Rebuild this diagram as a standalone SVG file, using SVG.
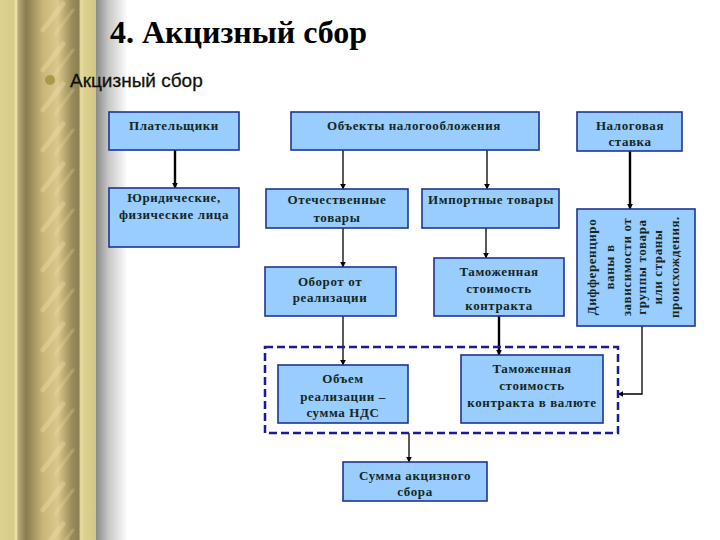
<svg xmlns="http://www.w3.org/2000/svg" width="720" height="540" viewBox="0 0 720 540">
<defs>
<linearGradient id="col" x1="0" y1="0" x2="1" y2="0">
<stop offset="0" stop-color="#dcd18e"/>
<stop offset="0.14" stop-color="#d8cc88"/>
<stop offset="0.17" stop-color="#f0e6b0"/>
<stop offset="0.19" stop-color="#b8aa72"/>
<stop offset="0.27" stop-color="#8a7c50"/>
<stop offset="0.45" stop-color="#c9b67a"/>
<stop offset="0.6" stop-color="#d9c98c"/>
<stop offset="0.75" stop-color="#9a8b5a"/>
<stop offset="0.82" stop-color="#8c7f52"/>
<stop offset="0.84" stop-color="#e6dca0"/>
<stop offset="0.88" stop-color="#dcd18e"/>
<stop offset="1" stop-color="#d4c784"/>
</linearGradient>
<linearGradient id="shadow" x1="0" y1="0" x2="1" y2="0">
<stop offset="0" stop-color="#8a8a8a"/>
<stop offset="0.4" stop-color="#c8c8c8"/>
<stop offset="1" stop-color="#ffffff"/>
</linearGradient>
<pattern id="streaks" width="60" height="40" patternUnits="userSpaceOnUse" patternTransform="translate(25,0)">
<path d="M38 4 L18 30" stroke="#f2e3a8" stroke-width="5" stroke-linecap="round" opacity="0.35"/>
<path d="M48 10 L30 34" stroke="#efe0a0" stroke-width="3" stroke-linecap="round" opacity="0.25"/>
</pattern>
<marker id="arr" viewBox="0 0 10 10" refX="9" refY="5" markerWidth="6" markerHeight="6" orient="auto" markerUnits="userSpaceOnUse">
<path d="M0 0 L10 5 L0 10 Z" fill="#000"/>
</marker>
<style>
.box{fill:#99ccff;stroke:#1f3590;stroke-width:1.6}
.t{font-family:"Liberation Serif","Times New Roman",serif;font-weight:bold;font-size:13px;fill:#14281a;text-anchor:middle;letter-spacing:0.6px}
.c{stroke:#000;stroke-width:1.3;fill:none}
.ct{stroke:#000;stroke-width:2.4;fill:none}
</style>
</defs>
<rect width="720" height="540" fill="#ffffff"/>
<rect x="0" y="0" width="96" height="540" fill="url(#col)"/>
<rect x="28" y="0" width="50" height="540" fill="url(#streaks)"/>
<rect x="96" y="0" width="32" height="540" fill="url(#shadow)"/>
<text x="110" y="43" font-family="Liberation Serif,Times New Roman,serif" font-weight="bold" font-size="32" fill="#000">4. Акцизный сбор</text>
<circle cx="50" cy="80" r="5" fill="#a89a48"/>
<text x="70" y="87" font-family="Liberation Sans,Arial,sans-serif" font-size="19" fill="#111108" stroke="#111108" stroke-width="0.3">Акцизный сбор</text>

<g id="connectors">
<line class="ct" x1="175" y1="150" x2="175" y2="188" marker-end="url(#arr)"/>
<line class="c" x1="343" y1="150" x2="343" y2="189" marker-end="url(#arr)"/>
<line class="c" x1="487" y1="150" x2="487" y2="189" marker-end="url(#arr)"/>
<line class="ct" x1="630" y1="151" x2="630" y2="209" marker-end="url(#arr)"/>
<line class="c" x1="343" y1="228" x2="343" y2="267" marker-end="url(#arr)"/>
<line class="c" x1="486" y1="228" x2="486" y2="258" marker-end="url(#arr)"/>
<line class="c" x1="343" y1="316" x2="343" y2="365" marker-end="url(#arr)"/>
<line class="ct" x1="499" y1="316" x2="499" y2="355" marker-end="url(#arr)"/>
<polyline class="c" points="642,326 642,394 618,394" marker-end="url(#arr)"/>
<line class="c" x1="409" y1="433" x2="409" y2="462" marker-end="url(#arr)"/>
</g>

<g id="group-dashed">
<rect x="265" y="347" width="353" height="86" fill="none" stroke="#1a1a9a" stroke-width="2.5" stroke-dasharray="8,4"/>
</g>

<g id="n-platelshiki">
<rect class="box" x="109" y="112" width="130" height="38"/>
<text class="t" x="174" y="130">Плательщики</text>
</g>
<g id="n-obekty">
<rect class="box" x="291" y="112" width="248" height="38"/>
<text class="t" x="414" y="130">Объекты налогообложения</text>
</g>
<g id="n-stavka">
<rect class="box" x="577" y="112" width="105" height="39"/>
<text class="t" x="630" y="130">Налоговая</text>
<text class="t" x="630" y="146">ставка</text>
</g>
<g id="n-yurid">
<rect class="box" x="109" y="188" width="130" height="59"/>
<text class="t" x="174" y="202">Юридические,</text>
<text class="t" x="174" y="219">физические лица</text>
</g>
<g id="n-otech">
<rect class="box" x="266" y="189" width="142" height="39"/>
<text class="t" x="337" y="204">Отечественные</text>
<text class="t" x="337" y="222">товары</text>
</g>
<g id="n-import">
<rect class="box" x="422" y="189" width="137" height="39"/>
<text class="t" x="491" y="204">Импортные товары</text>
</g>
<g id="n-diff">
<rect class="box" x="577" y="209" width="118" height="117"/>
<text class="t" transform="translate(596,267) rotate(-90)">Дифференциро</text>
<text class="t" transform="translate(614,267) rotate(-90)">ваны в</text>
<text class="t" transform="translate(631,267) rotate(-90)">зависимости от</text>
<text class="t" transform="translate(646,267) rotate(-90)">группы товара</text>
<text class="t" transform="translate(662,267) rotate(-90)">или страны</text>
<text class="t" transform="translate(679,267) rotate(-90)">происхождения.</text>
</g>
<g id="n-oborot">
<rect class="box" x="265" y="267" width="131" height="49"/>
<text class="t" x="330" y="286">Оборот от</text>
<text class="t" x="330" y="302">реализации</text>
</g>
<g id="n-tamozh">
<rect class="box" x="434" y="258" width="130" height="58"/>
<text class="t" x="499" y="276">Таможенная</text>
<text class="t" x="499" y="293">стоимость</text>
<text class="t" x="499" y="310">контракта</text>
</g>
<g id="n-obem">
<rect class="box" x="278" y="365" width="130" height="58"/>
<text class="t" x="343" y="383">Объем</text>
<text class="t" x="343" y="401">реализации –</text>
<text class="t" x="343" y="417">сумма НДС</text>
</g>
<g id="n-tamozh-val">
<rect class="box" x="461" y="355" width="142" height="68"/>
<text class="t" x="532" y="373">Таможенная</text>
<text class="t" x="532" y="390">стоимость</text>
<text class="t" x="532" y="407">контракта в валюте</text>
</g>
<g id="n-summa">
<rect class="box" x="343" y="462" width="144" height="39"/>
<text class="t" x="415" y="480">Сумма акцизного</text>
<text class="t" x="415" y="496">сбора</text>
</g>
</svg>
